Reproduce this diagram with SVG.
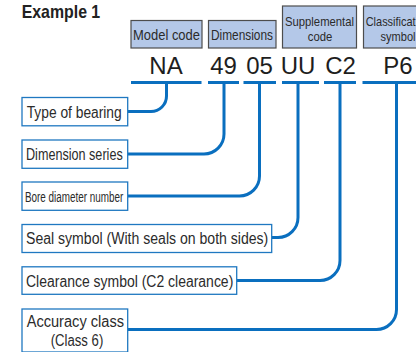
<svg xmlns="http://www.w3.org/2000/svg" width="416" height="352" viewBox="0 0 416 352">
<style>
text{font-family:"Liberation Sans",Arial,sans-serif;fill:#2b2b2b}
.title{font-weight:bold;font-size:18.5px;fill:#222}
.hbox{fill:#b4c8e8;stroke:#4d4d4d;stroke-width:1.2}
.htxt{font-size:15px;text-anchor:middle}
.h2{font-size:13px;text-anchor:middle}
.code{font-size:24px;text-anchor:middle;fill:#1e1e1e}
.ul{stroke:#0a6fbf;stroke-width:3;fill:none}
.lbox{fill:#fff;stroke:#1f78c1;stroke-width:1.3}
.ltxt{font-size:16px}
.conn{stroke:#0a6fbf;stroke-width:3;fill:none}
</style>
<rect width="416" height="352" fill="#fff"/>
<text class="title" x="21.7" y="18.3" textLength="78.5" lengthAdjust="spacingAndGlyphs">Example 1</text>

<g id="header-model">
<rect class="hbox" x="131" y="20.5" width="71" height="27.5"/>
<text class="htxt" x="166.5" y="40" textLength="67" lengthAdjust="spacingAndGlyphs">Model code</text>
</g>
<g id="header-dimensions">
<rect class="hbox" x="208.5" y="20.5" width="67.5" height="27.5"/>
<text class="htxt" x="242" y="40" textLength="62" lengthAdjust="spacingAndGlyphs">Dimensions</text>
</g>
<g id="header-supplemental">
<rect class="hbox" x="282.5" y="6" width="74" height="42"/>
<text class="h2"><tspan x="319.5" y="25.5" textLength="69" lengthAdjust="spacingAndGlyphs">Supplemental</tspan><tspan x="320" y="40.5" textLength="24.5" lengthAdjust="spacingAndGlyphs">code</tspan></text>
</g>
<g id="header-classification">
<rect class="hbox" x="363.5" y="6" width="70" height="42"/>
<text class="h2"><tspan x="398" y="25.5" textLength="64.6" lengthAdjust="spacingAndGlyphs">Classification</tspan><tspan x="398" y="40.5" textLength="35" lengthAdjust="spacingAndGlyphs">symbol</tspan></text>
</g>

<g id="codes">
<text class="code" x="166" y="74">NA</text>
<text class="code" x="223.5" y="74">49</text>
<text class="code" x="259.5" y="74">05</text>
<text class="code" x="298" y="74">UU</text>
<text class="code" x="340.5" y="74">C2</text>
<text class="code" x="398" y="74">P6</text>
</g>

<g id="connectors">
<path class="ul" d="M131,82.5H201.5M208,82.5H239M243.5,82.5H276M282,82.5H319M324,82.5H356M362.5,82.5H420"/>
<path class="conn" d="M127.7,111.5H151A15.5,15.5 0 0 0 166.5,96V82.5"/>
<path class="conn" d="M127.7,154H204A20,20 0 0 0 224,134V82.5"/>
<path class="conn" d="M127.7,196H239.5A20,20 0 0 0 259.5,176V82.5"/>
<path class="conn" d="M272,237.5H278A20,20 0 0 0 298,217.5V82.5"/>
<path class="conn" d="M236.7,280.5H320A20,20 0 0 0 340,260.5V82.5"/>
<path class="conn" d="M127.7,329.5H376.5A20,20 0 0 0 396.5,309.5V82.5"/>
</g>

<g id="node-type">
<rect class="lbox" x="22" y="97.5" width="105.7" height="28.3"/>
<text class="ltxt" x="26.7" y="117.5" textLength="95" lengthAdjust="spacingAndGlyphs">Type of bearing</text>
</g>
<g id="node-dimension-series">
<rect class="lbox" x="22" y="140" width="105.7" height="28.3"/>
<text class="ltxt" x="26" y="159.5" textLength="96.7" lengthAdjust="spacingAndGlyphs">Dimension series</text>
</g>
<g id="node-bore">
<rect class="lbox" x="22" y="182" width="105.7" height="28.3"/>
<text class="ltxt" x="25" y="201.5" textLength="98.3" lengthAdjust="spacingAndGlyphs" style="font-size:14px">Bore diameter number</text>
</g>
<g id="node-seal">
<rect class="lbox" x="22" y="224.5" width="249.7" height="28"/>
<text class="ltxt" x="26" y="243.5" textLength="242.3" lengthAdjust="spacingAndGlyphs">Seal symbol (With seals on both sides)</text>
</g>
<g id="node-clearance">
<rect class="lbox" x="22" y="266.8" width="214.7" height="27.5"/>
<text class="ltxt" x="26" y="286.5" textLength="207.3" lengthAdjust="spacingAndGlyphs">Clearance symbol (C2 clearance)</text>
</g>
<g id="node-accuracy">
<rect class="lbox" x="22" y="309" width="105.7" height="43"/>
<text class="ltxt"><tspan x="26.7" y="327.3" textLength="97.3" lengthAdjust="spacingAndGlyphs">Accuracy class</tspan><tspan x="50.7" y="346" textLength="52.6" lengthAdjust="spacingAndGlyphs">(Class 6)</tspan></text>
</g>
</svg>
